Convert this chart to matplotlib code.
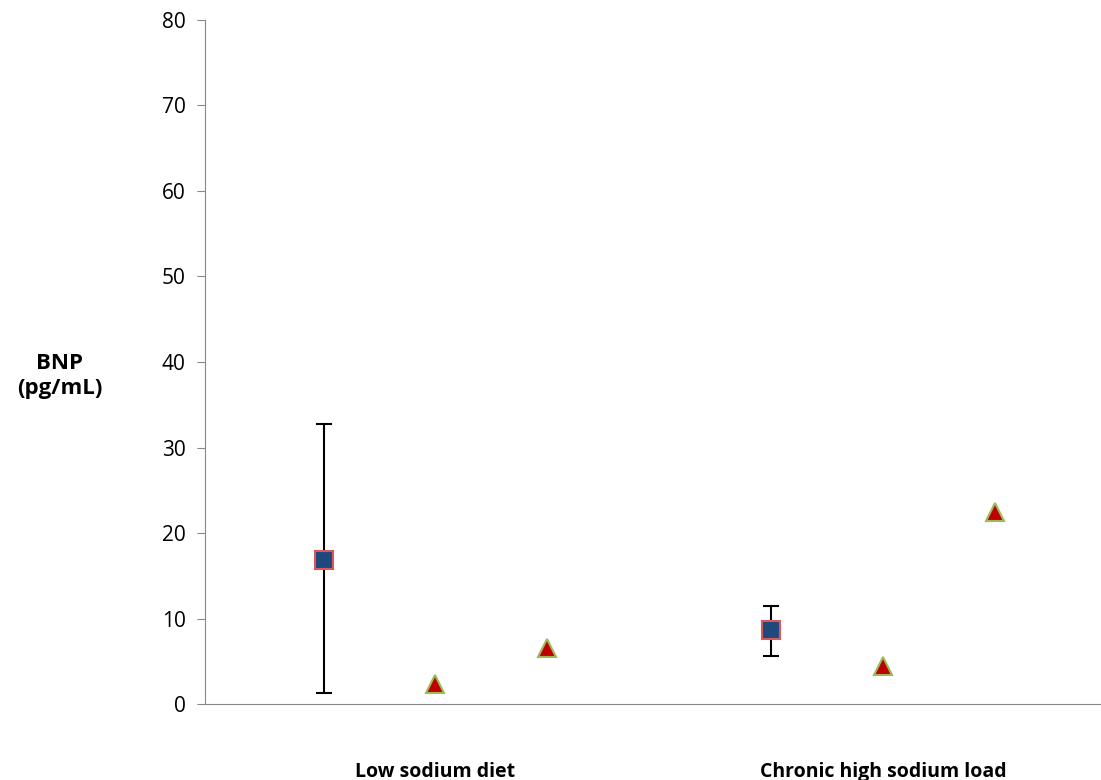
import numpy as np
import matplotlib.pyplot as plt

plt.rcParams['font.family'] = ['Open Sans', 'DejaVu Sans']

# data
categories = ["Low sodium diet", "Chronic high sodium load"]
sq_x = [1, 5]
sq_y = [16.9, 8.6]
sq_lo = [15.6, 3.0]
sq_hi = [15.8, 2.9]
tri_x = [2, 3, 6, 7]
tri_y = [2.3, 6.5, 4.4, 22.5]
yticks = np.arange(0, 81, 10)

fig = plt.figure(figsize=(11.01, 7.8), dpi=100)
ax = fig.add_axes([0.1862, 0.0974, 0.8129, 0.877])

ax.errorbar(sq_x, sq_y, yerr=[sq_lo, sq_hi], fmt='none', ecolor='black',
            elinewidth=1.5, capsize=6, capthick=1.5, zorder=2)
ax.plot(sq_x, sq_y, linestyle='none', marker='s', markersize=13,
        markerfacecolor='#1F497D', markeredgecolor='#D9595A', markeredgewidth=1.5, zorder=3)
ax.plot(tri_x, tri_y, linestyle='none', marker='^', markersize=13,
        markerfacecolor='#C00000', markeredgecolor='#9BBB59', markeredgewidth=1.5, zorder=3)

ax.set_xlim(-0.06, 7.94)
ax.set_ylim(0, 80)
ax.set_yticks(yticks)
ax.tick_params(axis='y', labelsize=15, length=6, color='#888888', pad=8)
ax.set_xticks([])
for s in ['top', 'right']:
    ax.spines[s].set_visible(False)
for s in ['left', 'bottom']:
    ax.spines[s].set_color('#888888')

for cx, lab in zip([2, 6], categories):
    ax.text(cx, -8.5, lab, ha='center', va='baseline', fontsize=14, fontweight='bold')

fig.text(60 / 1101, 1 - 376 / 780, "BNP\n(pg/mL)", ha='center', va='center',
         fontsize=16, fontweight='bold', linespacing=1.3)

fig.savefig('out.png', dpi=100)
